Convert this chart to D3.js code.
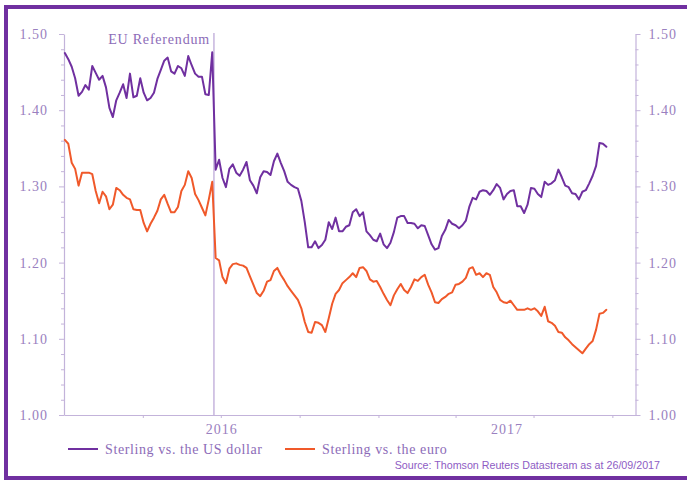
<!DOCTYPE html>
<html>
<head>
<meta charset="utf-8">
<script src="https://cdn.jsdelivr.net/npm/d3@7"></script>
<style>
  html, body { margin: 0; padding: 0; background: #fff; }
  svg { display: block; }
</style>
</head>
<body>
<svg id="chart" width="691" height="480"></svg>
<script>
// Daily closes sampled every 4 days from 1 Jan 2016
const startDate = "2016-01-01";
const stepDays = 4;

// GBP/USD
const usd = [
  1.475, 1.467, 1.457, 1.442, 1.419, 1.424, 1.433, 1.427, 1.458, 1.449,
  1.440, 1.445, 1.430, 1.403, 1.391, 1.413, 1.423, 1.434, 1.416, 1.448,
  1.417, 1.419, 1.442, 1.423, 1.413, 1.416, 1.423, 1.441, 1.453, 1.465,
  1.469, 1.451, 1.448, 1.458, 1.455, 1.445, 1.471, 1.459, 1.448, 1.444,
  1.444, 1.421, 1.420, 1.476, 1.322, 1.335, 1.311, 1.299, 1.323, 1.329,
  1.318, 1.314, 1.322, 1.332, 1.308, 1.301, 1.291, 1.312, 1.320, 1.319,
  1.315, 1.333, 1.343, 1.331, 1.320, 1.306, 1.302, 1.299, 1.297, 1.281,
  1.253, 1.220, 1.220, 1.228, 1.219, 1.223, 1.230, 1.253, 1.244, 1.259,
  1.241, 1.241, 1.247, 1.249, 1.266, 1.270, 1.261, 1.266, 1.241, 1.236,
  1.230, 1.228, 1.238, 1.224, 1.219, 1.226, 1.240, 1.259, 1.261, 1.261,
  1.252, 1.252, 1.251, 1.245, 1.249, 1.248, 1.236, 1.224, 1.217, 1.219,
  1.235, 1.243, 1.256, 1.251, 1.249, 1.245, 1.249, 1.255, 1.273, 1.285,
  1.283, 1.293, 1.295, 1.294, 1.289, 1.295, 1.303, 1.298, 1.283, 1.290,
  1.294, 1.295, 1.274, 1.274, 1.265, 1.276, 1.298, 1.297, 1.290, 1.286,
  1.306, 1.302, 1.304, 1.308, 1.322, 1.312, 1.301, 1.299, 1.291, 1.290,
  1.283, 1.293, 1.295, 1.304, 1.314, 1.327, 1.357, 1.356, 1.352
];

// GBP/EUR
const eur = [
  1.361, 1.356, 1.331, 1.323, 1.301, 1.318, 1.318, 1.318, 1.316, 1.294,
  1.278, 1.293, 1.287, 1.270, 1.276, 1.298, 1.295, 1.289, 1.285, 1.283,
  1.270, 1.269, 1.269, 1.252, 1.241, 1.251, 1.259, 1.268, 1.283, 1.289,
  1.277, 1.266, 1.266, 1.273, 1.294, 1.302, 1.320, 1.311, 1.290, 1.282,
  1.272, 1.262, 1.283, 1.306, 1.206, 1.203, 1.181, 1.173, 1.192, 1.198,
  1.199, 1.197, 1.196, 1.193, 1.182, 1.171, 1.160, 1.156, 1.163, 1.175,
  1.177, 1.189, 1.193, 1.184, 1.177, 1.169, 1.163, 1.157, 1.151, 1.140,
  1.122, 1.109, 1.108, 1.122, 1.121, 1.118, 1.109, 1.127, 1.146, 1.159,
  1.164, 1.173, 1.177, 1.181, 1.186, 1.181, 1.193, 1.194, 1.189, 1.178,
  1.175, 1.176, 1.168, 1.159, 1.151, 1.144, 1.157, 1.165, 1.172, 1.164,
  1.160, 1.168, 1.178, 1.176, 1.181, 1.184, 1.171, 1.161, 1.148, 1.147,
  1.152, 1.155, 1.159, 1.161, 1.171, 1.172, 1.175, 1.180, 1.192, 1.194,
  1.184, 1.186, 1.181, 1.186, 1.184, 1.168, 1.161, 1.151, 1.148, 1.147,
  1.150, 1.144, 1.138, 1.138, 1.138, 1.140, 1.138, 1.140, 1.136, 1.130,
  1.142, 1.123, 1.121, 1.117, 1.109, 1.108, 1.102, 1.098, 1.093, 1.089,
  1.085, 1.081, 1.087, 1.093, 1.097, 1.112, 1.133, 1.134, 1.138
];

const seriesNames = ["Sterling vs. the US dollar", "Sterling vs. the euro"];
const seriesColors = ["#7030a0", "#f0592a"];
const referendumDate = "2016-06-23";
const referendumLabel = "EU Referendum";
const yLabelTicks = [1.00, 1.10, 1.20, 1.30, 1.40, 1.50];
const yearLabels = ["2016", "2017"];
const sourceNote = "Source: Thomson Reuters Datastream as at 26/09/2017";

const parseDay = d3.timeParse("%Y-%m-%d");
const start = parseDay(startDate);
const dates = usd.map((_, i) => d3.timeDay.offset(start, i * stepDays));

const svg = d3.select("#chart");
const W = 691, H = 480;
const margin = { left: 64, right: 56, top: 34, bottom: 65 };

const axisColor = "#c3b3da";
const labelColor = "#9a80c0";
const textColor = "#8c6bb8";
const serif = "'Liberation Serif', 'DejaVu Serif', serif";

// Frame
const frameColor = "#7030a0";
svg.append("rect").attr("x", 4).attr("y", 5).attr("width", 4).attr("height", 475).attr("fill", frameColor);
svg.append("rect").attr("x", 4).attr("y", 5).attr("width", 683).attr("height", 4).attr("fill", frameColor);
svg.append("rect").attr("x", 4).attr("y", 476).attr("width", 683).attr("height", 4).attr("fill", frameColor);

const x = d3.scaleTime()
  .domain([parseDay("2015-12-31"), parseDay("2017-10-28")])
  .range([margin.left, W - margin.right + 0.5]);
const y = d3.scaleLinear()
  .domain([1.0, 1.5])
  .range([H - margin.bottom, margin.top]);

const fmt = d => d.toFixed(2);
const allTicks = d3.range(0, 26).map(i => +(1 + i * 0.02).toFixed(2));
const isMajor = v => yLabelTicks.some(t => Math.abs(t - v) < 1e-6);

function styleAxis(g) {
  g.select(".domain").attr("stroke", axisColor).attr("stroke-width", 1.2);
  g.selectAll(".tick line").attr("stroke", axisColor).attr("stroke-width", 1);
  g.selectAll(".tick text")
    .attr("fill", labelColor)
    .style("font-family", serif)
    .style("font-size", "14px")
    .style("letter-spacing", "1px");
}

// Left value axis
const gLeft = svg.append("g")
  .attr("transform", `translate(${margin.left},0)`)
  .call(d3.axisLeft(y).tickValues(allTicks).tickSizeOuter(0)
    .tickFormat(v => isMajor(v) ? fmt(v) : "").tickPadding(10))
  .call(styleAxis);
gLeft.selectAll(".tick line").attr("x2", d => isMajor(d) ? -5 : -3);

// Right value axis
const gRight = svg.append("g")
  .attr("transform", `translate(${x.range()[1]},0)`)
  .call(d3.axisRight(y).tickValues(allTicks).tickSizeOuter(0)
    .tickFormat(v => isMajor(v) ? fmt(v) : "").tickPadding(7))
  .call(styleAxis);
gRight.selectAll(".tick line").attr("x2", d => isMajor(d) ? 5 : 3);

// Time axis with quarterly ticks
const quarterTicks = d3.timeMonth.every(3).range(parseDay("2016-04-01"), x.domain()[1]);
svg.append("g")
  .attr("transform", `translate(0,${y(1.0)})`)
  .call(d3.axisBottom(x).tickValues(quarterTicks).tickSize(3).tickSizeOuter(0).tickFormat(""))
  .call(styleAxis);

// Year labels centred on each year's visible span
yearLabels.forEach(yr => {
  const a = Math.max(x(parseDay(yr + "-01-01")), x.range()[0]);
  const b = Math.min(x(parseDay((+yr + 1) + "-01-01")), x.range()[1]);
  svg.append("text")
    .attr("x", (a + b) / 2).attr("y", y(1.0) + 19)
    .attr("text-anchor", "middle")
    .attr("fill", labelColor)
    .style("font-family", serif).style("font-size", "14px")
    .style("letter-spacing", "1px")
    .text(yr);
});

// Referendum marker
const xRef = x(parseDay(referendumDate));
svg.append("line")
  .attr("x1", xRef).attr("x2", xRef)
  .attr("y1", y(1.5) - 1).attr("y2", y(1.0))
  .attr("stroke", "#b7a2d4").attr("stroke-width", 1.2);
svg.append("text")
  .attr("x", xRef - 4).attr("y", y(1.5) + 10)
  .attr("text-anchor", "end")
  .attr("fill", textColor)
  .style("font-family", serif).style("font-size", "14px")
  .style("letter-spacing", "0.8px")
  .text(referendumLabel);

// Series lines
const line = d3.line()
  .x((d, i) => x(dates[i]))
  .y(d => y(d));
[usd, eur].forEach((vals, k) => {
  svg.append("path")
    .datum(vals)
    .attr("d", line)
    .attr("fill", "none")
    .attr("stroke", seriesColors[k])
    .attr("stroke-width", 2)
    .attr("stroke-linejoin", "round")
    .attr("stroke-linecap", "round");
});

// Legend
const legendY = 449;
const legendX = [68, 285];
seriesNames.forEach((name, k) => {
  svg.append("line")
    .attr("x1", legendX[k]).attr("x2", legendX[k] + 30)
    .attr("y1", legendY).attr("y2", legendY)
    .attr("stroke", seriesColors[k]).attr("stroke-width", 2);
  svg.append("text")
    .attr("x", legendX[k] + 37).attr("y", legendY + 4.5)
    .attr("fill", textColor)
    .style("font-family", serif).style("font-size", "14px")
    .style("letter-spacing", "0.6px")
    .text(name);
});

// Source note
svg.append("text")
  .attr("x", 660).attr("y", 469)
  .attr("text-anchor", "end")
  .attr("fill", "#8e5cc4")
  .style("font-family", "'Liberation Sans', Arial, sans-serif")
  .style("font-size", "10.7px")
  .text(sourceNote);
</script>
</body>
</html>
